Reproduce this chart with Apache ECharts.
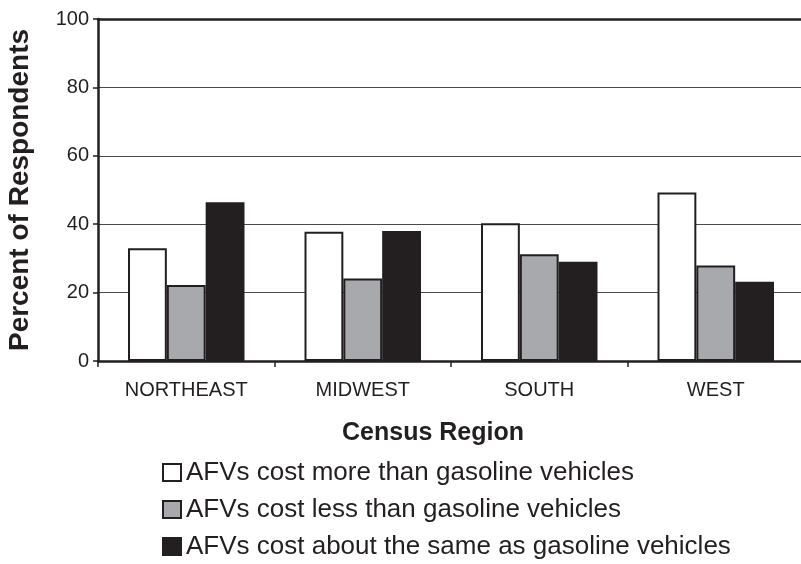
<!DOCTYPE html>
<html>
<head>
<meta charset="utf-8">
<script src="https://cdn.jsdelivr.net/npm/echarts@6/dist/echarts.min.js"></script>
<style>
  html, body { margin: 0; padding: 0; background: #fff; }
  #chart { width: 801px; height: 564px; }
</style>
</head>
<body>
<div id="chart"></div>
<script>
// Census regions along the horizontal axis
const regions = ['NORTHEAST', 'MIDWEST', 'SOUTH', 'WEST'];

// Percent of respondents per answer
const costMore = [33.0, 37.8, 40.3, 49.3];
const costLess = [22.2, 24.1, 31.2, 27.9];
const aboutSame = [46.4, 38.0, 29.0, 23.2];

const seriesNames = [
  'AFVs cost more than gasoline vehicles',
  'AFVs cost less than gasoline vehicles',
  'AFVs cost about the same as gasoline vehicles'
];

// Value axis ticks
const yTicks = [0, 20, 40, 60, 80, 100];

const INK = '#231f20';
const GRAY = '#a7a9ac';
const FONT = '"Liberation Sans", Arial, Helvetica, sans-serif';

const chart = echarts.init(document.getElementById('chart'), null, { renderer: 'canvas' });

function barSeries(name, values, fill) {
  return {
    name: name,
    type: 'bar',
    data: values,
    xAxisIndex: 0,
    barGap: '0%',
    barCategoryGap: '34%',
    itemStyle: { color: fill, borderColor: INK, borderWidth: 2 },
    emphasis: { disabled: true }
  };
}

chart.setOption({
  animation: false,
  backgroundColor: '#fff',
  textStyle: { fontFamily: FONT, color: INK },
  grid: {
    left: 98, right: -3, top: 19, bottom: 203,
    containLabel: false,
    outerBoundsMode: 'none'
  },
  xAxis: [
    {
      type: 'category',
      data: regions,
      position: 'bottom',
      axisLine: { show: true, lineStyle: { color: INK, width: 2.5 } },
      axisTick: { show: true, length: 6, lineStyle: { color: INK, width: 1.5 } },
      axisLabel: { fontSize: 20, color: INK, fontFamily: FONT, margin: 19 },
      splitLine: { show: false }
    },
    {
      type: 'category',
      data: regions,
      position: 'top',
      axisLine: { show: true, lineStyle: { color: INK, width: 2.5 } },
      axisTick: { show: false },
      axisLabel: { show: false },
      splitLine: { show: false }
    }
  ],
  yAxis: {
    type: 'value',
    min: yTicks[0],
    max: yTicks[yTicks.length - 1],
    interval: yTicks[1] - yTicks[0],
    name: 'Percent of Respondents',
    nameLocation: 'middle',
    nameGap: 64,
    nameTextStyle: { fontSize: 28, fontWeight: 'bold', color: INK, fontFamily: FONT },
    axisLine: { show: true, lineStyle: { color: INK, width: 2.5 } },
    axisTick: { show: true, length: 5, lineStyle: { color: INK, width: 1.5 } },
    axisLabel: { fontSize: 20, color: INK, fontFamily: FONT, margin: 9 },
    splitLine: { show: true, lineStyle: { color: '#4a4a4a', width: 1.2 } }
  },
  legend: {
    orient: 'vertical',
    left: 162,
    top: 457,
    padding: 0,
    itemWidth: 18,
    itemHeight: 17,
    itemGap: 6,
    icon: 'rect',
    selectedMode: false,
    textStyle: { fontSize: 26, color: INK, fontFamily: FONT, lineHeight: 31 },
    data: seriesNames
  },
  graphic: [
    {
      type: 'text',
      x: 433,
      y: 433,
      style: {
        text: 'Census Region',
        font: 'bold 25px ' + FONT,
        fill: INK,
        align: 'center',
        verticalAlign: 'middle'
      }
    }
  ],
  series: [
    barSeries(seriesNames[0], costMore, '#ffffff'),
    barSeries(seriesNames[1], costLess, GRAY),
    barSeries(seriesNames[2], aboutSame, INK)
  ]
});
</script>
</body>
</html>
